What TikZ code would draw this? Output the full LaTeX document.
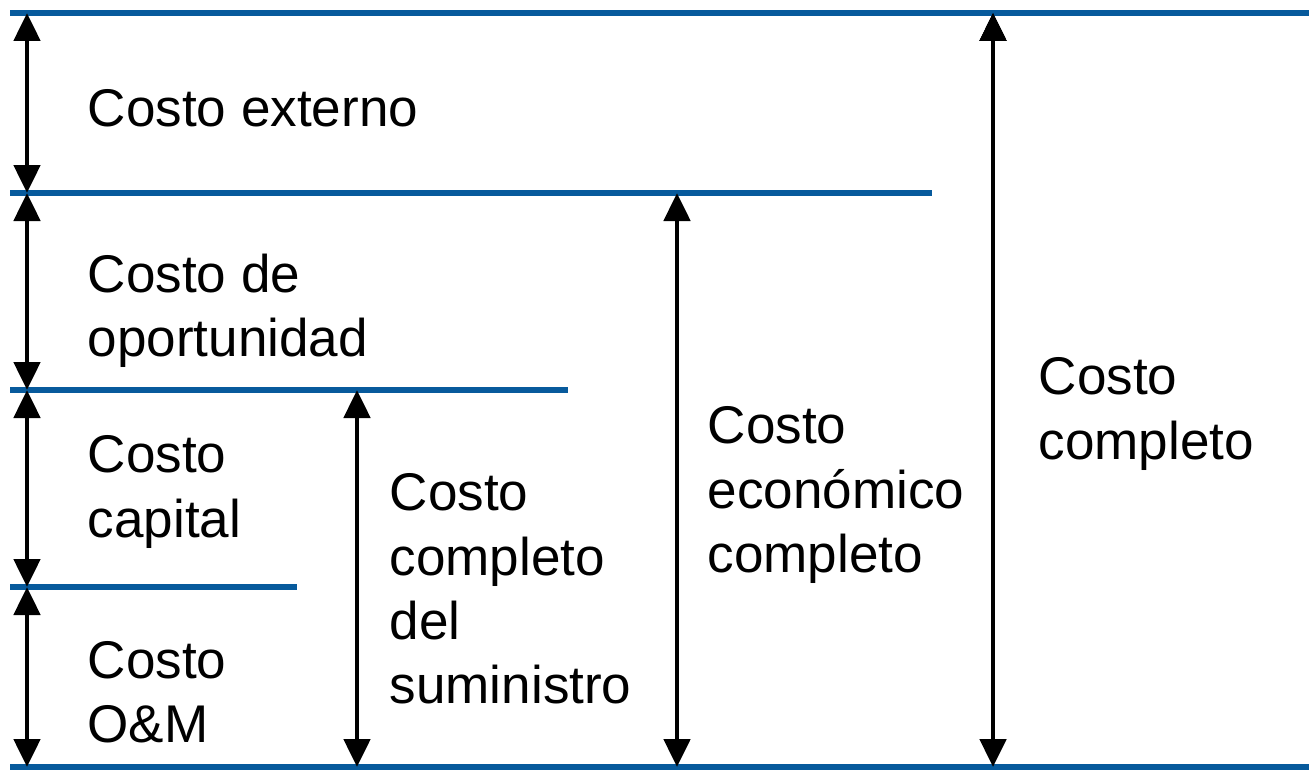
\documentclass[tikz,border=0pt]{standalone}
\usepackage{fontspec}
\setmainfont{Liberation Sans}
\usepackage{xcolor}
\usepackage{tikz}
\usetikzlibrary{arrows.meta}
\definecolor{azulnivel}{HTML}{075A9C}

\begin{document}
\begin{tikzpicture}[nivel/.style={draw=azulnivel, line width=1.5pt},
  costo/.style={anchor=west, align=left, inner sep=0pt, font=\fontsize{15.1}{18.3}\selectfont}]
\useasboundingbox (0,0) rectangle (13.09,7.70);

% niveles
\coordinate (N0a) at (0.10,7.57);  \coordinate (N0b) at (13.09,7.57);
\coordinate (N1a) at (0.10,5.77);  \coordinate (N1b) at (9.32,5.77);
\coordinate (N2a) at (0.10,3.80);  \coordinate (N2b) at (5.68,3.80);
\coordinate (N3a) at (0.10,1.83);  \coordinate (N3b) at (2.97,1.83);
\coordinate (N4a) at (0.10,0.03);  \coordinate (N4b) at (13.09,0.03);

\draw[nivel] (N0a) -- (N0b);
\draw[nivel] (N1a) -- (N1b);
\draw[nivel] (N2a) -- (N2b);
\draw[nivel] (N3a) -- (N3b);
\draw[nivel] (N4a) -- (N4b);

% extremos de las flechas
\coordinate (A0) at (0.27,7.57);
\coordinate (A1) at (0.27,5.77);
\coordinate (A2) at (0.27,3.80);
\coordinate (A3) at (0.27,1.83);
\coordinate (A4) at (0.27,0.03);
\coordinate (S2) at (3.57,3.80);  \coordinate (S4) at (3.57,0.03);
\coordinate (E1) at (6.77,5.77);  \coordinate (E4) at (6.77,0.03);
\coordinate (T0) at (9.93,7.57);  \coordinate (T4) at (9.93,0.03);

\path[{Triangle[length=2.8mm,width=2.6mm]}-{Triangle[length=2.8mm,width=2.6mm]}, line width=1.4pt, draw=black]
        (A0) edge (A1)
        (A1) edge (A2)
        (A2) edge (A3)
        (A3) edge (A4)
        (S2) edge (S4)
        (E1) edge (E4)
        (T0) edge (T4);

% textos
\node[costo] (ext)  at (0.87,6.62) {Costo externo};
\node[costo] (opo)  at (0.87,4.59) {Costo de\\oportunidad};
\node[costo] (cap)  at (0.87,2.78) {Costo\\capital};
\node[costo] (om)   at (0.87,0.78) {Costo\\O\&M};
\node[costo] (sum)  at (3.89,1.81) {Costo\\completo\\del\\suministro};
\node[costo] (eco)  at (7.07,2.75) {Costo\\económico\\completo};
\node[costo] (comp) at (10.38,3.56) {Costo\\completo};
\end{tikzpicture}
\end{document}
